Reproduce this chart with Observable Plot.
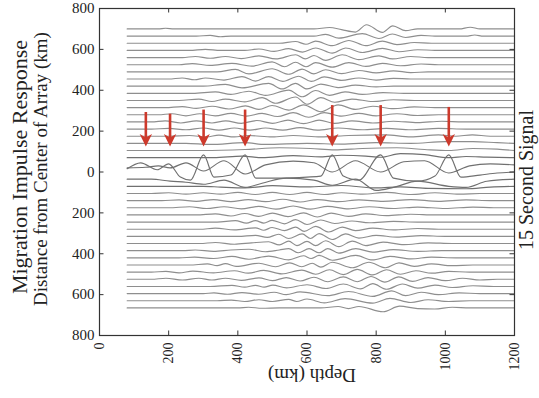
<!DOCTYPE html>
<html><head><meta charset="utf-8">
<script src="https://cdn.jsdelivr.net/npm/d3@7"></script>
<script src="https://cdn.jsdelivr.net/npm/@observablehq/plot@0.6"></script>
<style>body{margin:0;background:#fff}svg{display:block}</style>
</head><body><div id="chart"></div>
<script>
// Trace positions (distance from centre of array, km), top to bottom
const traceOffsets = [700,665,630,595,560,525,490,455,420,385,350,315,280,245,210,175,140,105,70,35,0,-35,-70,-105,-140,-175,-210,-245,-280,-315,-350,-385,-420,-455,-490,-525,-560,-595,-630,-665];
// Display gain applied to each trace's deflection
const traceGain = [1.7,1.7,1.7,1.7,1.7,1.7,1.7,1.7,1.7,1.7,1.7,1.7,1.7,1.7,1.7,1.7,1.7,1.7,1,1,1,1,1,1.7,1.7,1.7,1.7,1.7,1.7,1.7,1.7,1.7,1.7,1.7,1.7,1.7,1.7,1.7,1.7,1.7];
// Each trace: depth (km), deflection pairs
const traceWiggles = [
[80,0,170,0,191,2,215,0,620,0,665,4,700,-2,740,-9,772,12,818,-10,848,9,885,-5,920,0,1040,0,1072,5,1100,0,1200,0],
[80,0,280,0,320,2,350,-2,380,0,620,0,654,5,692,-6,760,7,808,-7,847,6,885,-4,930,2,970,0,1060,0,1085,3,1110,0,1200,0],
[80,0,520,0,567,5,597,-3,625,6,673,-7,721,8,770,-7,818,6,860,-4,910,2,960,0,1200,0],
[80,0,260,0,306,3,350,0,420,0,461,4,505,-3,547,5,587,-5,625,7,673,-8,712,7,760,-6,818,6,866,-4,920,2,970,0,1200,0],
[80,0,240,0,277,3,320,-2,364,3,410,-3,461,5,510,-4,567,8,595,-4,620,6,654,-8,702,8,750,-6,808,5,847,-4,900,3,950,0,1200,0],
[80,0,230,0,268,3,320,-2,383,4,440,-4,499,8,535,-6,567,7,597,-6,625,6,673,-7,721,6,770,-5,818,4,870,-3,930,2,980,0,1200,0],
[80,0,340,0,393,7,432,-6,499,9,547,-7,586,8,620,-6,654,6,700,-5,750,4,800,-3,850,3,900,-2,950,0,1200,0],
[80,0,200,0,239,3,275,-2,306,3,360,-3,412,7,451,-6,489,7,530,-7,576,8,612,-7,650,6,700,-4,750,3,800,-3,850,2,900,0,1200,0],
[80,0,300,0,364,5,412,-5,489,8,528,-8,567,8,600,-8,640,6,690,-4,740,3,800,-2,850,0,1200,0],
[80,0,270,0,335,4,380,-3,432,6,480,-6,547,9,586,-10,625,8,665,-6,710,4,760,-3,820,2,880,0,1200,0],
[80,0,230,0,287,4,325,-3,364,4,420,-4,470,8,509,-8,567,10,600,-11,640,8,680,-5,730,4,790,-3,850,2,910,0,1200,0],
[80,0,190,0,239,3,280,-2,326,4,374,-4,422,5,461,-5,499,6,547,-7,590,8,640,-12,690,8,740,-5,790,4,850,-3,910,2,970,0,1200,0],
[80,0,170,0,210,3,250,-3,290,3,335,-3,380,4,425,-4,470,4,515,-5,560,6,605,-7,650,6,700,-4,750,4,800,-3,860,3,920,-2,980,0,1200,0],
[80,0,150,0,190,3,235,-3,280,3,325,-3,365,3,410,-4,455,4,500,-4,545,5,590,-5,635,5,680,-4,730,3,790,-3,850,2,920,-2,990,2,1050,0,1200,0],
[80,0,150,0,200,2,250,-2,300,3,345,-3,390,3,435,-3,480,3,530,-3,580,4,630,-3,690,3,760,-2,830,2,900,-2,980,2,1060,0,1200,0],
[80,0,200,0,260,2,310,-2,345,3,390,-2,430,2,500,-2,560,2,640,-2,720,2,827,4,900,-2,980,4,1030,0,1078,4,1130,0,1200,0],
[80,0,250,0,320,-3,420,2,480,-3,600,0,700,-2,800,2,900,0,1000,5,1080,5,1150,2,1200,0],
[80,0,300,0,421,3,520,8,610,6,680,2,760,6,860,8,940,3,1010,0,1080,6,1150,4,1200,0],
[80,0,330,0,412,8,470,0,560,10,640,4,700,12,770,8,813,2,870,20,940,15,1010,0,1060,6,1120,3,1200,0],
[80,-15,134,-12,170,-5,204,-15,250,10,301,-30,360,20,421,-45,480,0,560,18,620,10,673,-35,740,20,813,-35,880,15,940,20,1010,-40,1070,-5,1130,5,1200,0],
[80,16,119,45,167,11,200,40,234,-25,263,-40,301,84,331,-25,380,-15,421,84,452,-30,520,-30,600,-25,640,-20,673,84,705,-20,750,-40,813,84,850,-30,920,-45,970,-20,1010,84,1045,-25,1100,-15,1150,-5,1200,0],
[80,0,150,0,204,-10,250,-15,301,-25,360,-5,421,-40,470,-20,540,5,620,-5,673,-30,740,0,800,-55,850,-40,920,-10,1010,-35,1060,-40,1120,-10,1200,0],
[80,0,300,0,350,-4,421,-8,500,3,600,-3,700,4,800,-8,870,-3,950,-10,1060,-12,1130,-4,1200,0],
[80,0,150,0,200,2,250,-2,300,2,350,-2,400,3,450,-3,500,3,550,-3,600,3,650,-3,700,2,760,-2,830,3,900,-3,970,2,1040,-2,1100,0,1200,0],
[80,0,180,0,230,2,280,-2,330,3,380,-3,430,3,480,-3,530,4,580,-4,630,3,690,-3,750,2,820,-2,900,3,980,-2,1060,2,1130,0,1200,0],
[80,0,200,0,260,3,310,-2,360,3,410,-3,460,4,510,-4,560,5,610,-4,660,4,720,-3,780,3,850,-2,920,2,1000,-2,1080,2,1140,0,1200,0],
[80,0,280,0,335,3,380,-3,420,4,460,-4,500,5,545,-5,590,6,630,-6,670,5,720,-4,770,3,830,-2,900,2,970,0,1200,0],
[80,0,340,0,393,4,425,-3,451,4,475,-3,499,5,535,-5,567,7,600,-7,640,6,680,-4,730,3,780,-2,850,2,920,0,1200,0],
[80,0,290,0,335,3,390,-2,451,4,475,-3,499,5,535,-4,567,6,592,-6,625,8,663,-8,702,6,740,-4,790,3,850,-2,920,2,980,0,1200,0],
[80,0,400,0,451,3,485,-3,518,6,547,-6,586,7,610,-6,635,8,673,-9,712,7,750,-5,800,3,860,-2,930,2,1000,0,1200,0],
[80,0,290,0,335,3,390,-2,440,2,489,5,520,-4,547,7,571,-6,600,6,625,-6,654,8,692,-9,731,7,770,-6,820,4,880,-3,950,2,1020,0,1200,0],
[80,0,240,0,277,2,330,-2,380,2,432,4,480,-3,520,2,547,6,575,-6,606,6,635,-6,660,6,692,-7,741,6,790,-4,850,3,920,-2,990,0,1200,0],
[80,0,230,0,275,2,330,-2,383,4,432,-4,489,5,547,-6,590,6,612,-2,635,7,673,-7,741,7,789,-6,840,4,900,-3,960,2,1030,0,1200,0],
[80,0,260,0,312,3,340,-2,364,4,395,-4,461,5,509,-5,550,6,585,-5,615,5,640,-6,673,8,731,-8,779,8,827,-8,866,6,910,-4,960,3,1020,-2,1080,0,1200,0],
[80,0,150,0,192,2,230,-2,270,3,330,-2,390,4,430,-3,475,5,527,-5,585,6,625,-6,665,7,705,-7,745,8,790,-8,830,7,870,-6,915,4,960,-3,1010,2,1070,0,1200,0],
[80,0,150,0,192,3,240,-2,287,3,325,-2,364,3,410,-3,461,4,500,-4,540,5,580,-5,620,6,660,-7,705,7,745,-7,785,8,825,-8,865,7,905,-6,950,5,1000,-4,1050,3,1100,-2,1150,0,1200,0],
[80,0,320,0,383,3,420,-2,451,3,476,-2,501,4,541,-4,600,5,655,-6,705,7,755,-7,790,8,830,-8,876,7,920,-5,970,4,1020,-3,1080,2,1140,0,1200,0],
[80,0,300,0,331,2,370,-2,412,3,460,-2,505,4,540,-3,580,5,660,-6,720,6,790,-8,845,8,885,-6,930,4,980,-3,1040,2,1100,0,1200,0],
[80,0,340,0,381,2,420,-2,461,3,500,-2,547,4,570,-2,600,5,650,-6,710,6,790,-7,840,7,900,-5,950,3,1010,-2,1070,0,1200,0],
[80,0,400,0,431,2,470,-1,520,0,640,0,690,4,720,-2,750,4,820,-11,868,5,920,-2,969,-3,1020,2,1070,0,1200,0]
];
// Red arrows: depth, top of shaft, tip (km)
const arrowDepths = [134,204,301,421,673,813,1010];
const arrowTops = [291,283,303,303,325,325,316];
const arrowTips = [125,125,125,125,125,125,125];
const xTicks = [0,200,400,600,800,1000,1200];
const yTicks = [-800,-600,-400,-200,0,200,400,600,800];

const font = "Liberation Serif";
const rows = [];
traceWiggles.forEach((w, i) => {
  for (let k = 0; k < w.length; k += 2) {
    rows.push({trace: i, depth: w[k], dist: traceOffsets[i] + traceGain[i] * w[k+1], centre: i >= 18 && i <= 22});
  }
});
const arrows = arrowDepths.map((d, i) => ({d, top: arrowTops[i], tip: arrowTips[i], shaftEnd: arrowTips[i] + 25}));
const red = "#cd3a2c";
const head = {draw(ctx, size) {
  ctx.moveTo(0, 0); ctx.lineTo(-6.2, -12.5); ctx.lineTo(0, -9); ctx.lineTo(6.2, -12.5); ctx.closePath();
}};

const plot = Plot.plot({
  width: 539, height: 398,
  marginLeft: 99, marginRight: 25, marginTop: 8, marginBottom: 63,
  style: {fontFamily: font, background: "#fff", color: "#222"},
  x: {domain: [0, 1200], label: null},
  y: {domain: [-800, 800], label: null},
  marks: [
    Plot.line(rows.filter(r => !r.centre), {x: "depth", y: "dist", z: "trace", stroke: "#8e8e8e", strokeWidth: 1.15, curve: "monotone-x"}),
    Plot.line(rows.filter(r => r.centre), {x: "depth", y: "dist", z: "trace", stroke: "#707070", strokeWidth: 1.15, curve: "monotone-x"}),
    Plot.ruleX(arrows, {x: "d", y1: "top", y2: "shaftEnd", stroke: red, strokeWidth: 2.6}),
    Plot.dot(arrows, {x: "d", y: "tip", symbol: head, r: 5, fill: red, stroke: "none"}),
    Plot.ruleY(yTicks, {x1: 0, x2: 13, stroke: "#333"}),
    Plot.ruleY(yTicks, {x1: 1187, x2: 1200, stroke: "#333"}),
    Plot.ruleX(xTicks, {y1: -800, y2: -778, stroke: "#333"}),
    Plot.ruleX(xTicks, {y1: 778, y2: 800, stroke: "#333"}),
    Plot.frame({stroke: "#333", strokeWidth: 1.2}),
    Plot.axisY(yTicks, {tickSize: 0, tickPadding: 5, tickFormat: d => String(Math.abs(d)), label: null, fontSize: 15, fontFamily: font}),
    Plot.axisX(xTicks, {tickSize: 0, tickPadding: 7, tickRotate: -90, tickFormat: d => String(d), label: null, fontSize: 14, fontFamily: font})
  ]
});
document.getElementById("chart").appendChild(plot);
const svg = d3.select(plot);
function label(txt, x, y, rot, size) {
  svg.append("text").attr("transform", `translate(${x},${y}) rotate(${rot})`)
    .attr("text-anchor", "middle").style("font-family", font).style("font-size", size + "px")
    .attr("fill", "#222").text(txt);
}
label("Migration Impulse Response", 27, 167, -90, 22);
label("Distance from Center of Array (km)", 47, 169, -90, 19);
label("15 Second Signal", 533, 180, -90, 20);
label("Depth (km)", 312, 369, 180, 19);
</script></body></html>
